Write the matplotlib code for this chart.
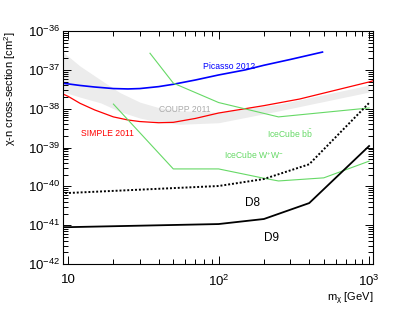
import numpy as np
import matplotlib
matplotlib.use("Agg")
import matplotlib.pyplot as plt
from matplotlib.ticker import LogLocator, FixedLocator, NullFormatter

plt.rcParams['font.family'] = ['Liberation Sans', 'DejaVu Sans']
plt.rcParams['mathtext.fontset'] = 'custom'
plt.rcParams['mathtext.rm'] = 'Liberation Sans'
plt.rcParams['mathtext.it'] = 'Liberation Sans:italic'
plt.rcParams['mathtext.default'] = 'regular'

# ---- data (log10 of cross-section in cm^2) ----
picasso_m = [9, 10, 12, 15, 20, 25, 30, 40, 50, 70, 100, 150, 200, 300, 490]
picasso_log = [-37.34, -37.36, -37.40, -37.44, -37.48, -37.49, -37.48, -37.43, -37.37,
               -37.26, -37.13, -37.00, -36.88, -36.73, -36.54]

simple_m = [9, 10, 12, 15, 20, 25, 30, 40, 50, 70, 100, 200, 345, 1000, 1100]
simple_log = [-37.6, -37.68, -37.86, -38.03, -38.21, -38.29, -38.33, -38.36, -38.35,
              -38.25, -38.11, -37.92, -37.75, -37.31, -37.26]

coupp_m = [9, 12, 16.5, 22, 30, 40, 55, 100, 255, 1000]
coupp_up_log = [-36.5, -36.9, -37.26, -37.58, -37.83, -37.97, -38.05, -38.09, -37.88, -37.39]
coupp_lo_log = [-37.55, -37.7, -37.85, -38.07, -38.24, -38.34, -38.4, -38.36, -38.05, -37.57]

icbb_m = [35, 50, 100, 250, 1000]
icbb_log = [-36.57, -37.34, -37.84, -38.21, -37.98]

icww_m = [20, 50, 100, 200, 250, 500, 1000]
icww_log = [-37.88, -39.55, -39.55, -39.79, -39.86, -39.78, -39.35]

d8_m = [9, 10, 100, 200, 400, 1000]
d8_log = [-40.17, -40.17, -39.99, -39.81, -39.43, -37.85]

d9_m = [9, 10, 100, 200, 400, 1000]
d9_log = [-41.05, -41.05, -40.97, -40.84, -40.43, -38.96]

xtick_vals = [10, 100, 1000]
xtick_labels = ['10', '$10^{2}$', '$10^{3}$']
ytick_exps = [-42, -41, -40, -39, -38, -37, -36]

def v(a):
    return 10.0 ** np.array(a)

fig = plt.figure(figsize=(4.15, 3.11), dpi=100)
ax = fig.add_axes([0.152, 0.151, 0.747, 0.749])
ax.set_xscale('log')
ax.set_yscale('log')

green = '#66d966'
ax.fill_between(coupp_m, v(coupp_lo_log), v(coupp_up_log), color='#ececec', lw=0)
ax.plot(picasso_m, v(picasso_log), color='#0000ff', lw=1.2)
ax.plot(simple_m, v(simple_log), color='#ff0000', lw=0.9)
ax.plot(icbb_m, v(icbb_log), color=green, lw=0.8)
ax.plot(icww_m, v(icww_log), color=green, lw=0.8)
ax.plot(d8_m, v(d8_log), color='black', lw=1.4, ls=(0, (1, 1)))
ax.plot(d9_m, v(d9_log), color='black', lw=1.3)

ax.set_xlim(9.26, 1063)
ax.set_ylim(1e-42, 1e-36)

fs = 6.2
ax.text(117, 10**-36.9, 'Picasso 2012', color='#0000ff', fontsize=fs, ha='center', va='center')
ax.text(59.5, 10**-38.01, 'COUPP 2011', color='#aaaaaa', fontsize=fs, ha='center', va='center')
ax.text(18.2, 10**-38.63, 'SIMPLE 2011', color='#ff0000', fontsize=fs, ha='center', va='center')
ax.text(299, 10**-38.63, r'IceCube b$\bar{\mathrm{b}}$', color=green, fontsize=fs, ha='center', va='center')
ax.text(173, 10**-39.19, r'IceCube W$^{+}$W$^{-}$', color=green, fontsize=fs, ha='center', va='center')
ax.text(167, 10**-40.43, 'D8', color='black', fontsize=8.5, ha='center', va='center')
ax.text(223, 10**-41.33, 'D9', color='black', fontsize=8.5, ha='center', va='center')

ax.xaxis.set_major_locator(FixedLocator(xtick_vals))
ax.set_xticklabels(xtick_labels)
ax.xaxis.set_minor_locator(LogLocator(base=10, subs=np.arange(2, 10)))
ax.xaxis.set_minor_formatter(NullFormatter())
ax.yaxis.set_major_locator(FixedLocator([10.0**e for e in ytick_exps]))
ax.set_yticklabels(['$10^{%d}$' % e for e in ytick_exps])
ax.yaxis.set_minor_locator(LogLocator(base=10, subs=np.arange(2, 10), numticks=20))
ax.yaxis.set_minor_formatter(NullFormatter())

ax.tick_params(which='both', direction='in', top=True, right=True, labelsize=9.5, width=0.7)
ax.tick_params(which='major', length=6)
ax.tick_params(which='minor', length=3.5)
ax.tick_params(axis='x', pad=7)
ax.tick_params(axis='y', pad=2)
for s in ax.spines.values():
    s.set_linewidth(0.8)

ax.set_ylabel(r'$\chi$-n cross-section [cm$^{2}$]', fontsize=8, loc='top')
ax.yaxis.set_label_coords(-0.145, 1.0)
ax.set_xlabel(r'm$_{\chi}$ [GeV]', fontsize=8, loc='right')
ax.xaxis.set_label_coords(1.0, -0.115)

fig.savefig('out.png', dpi=100)
